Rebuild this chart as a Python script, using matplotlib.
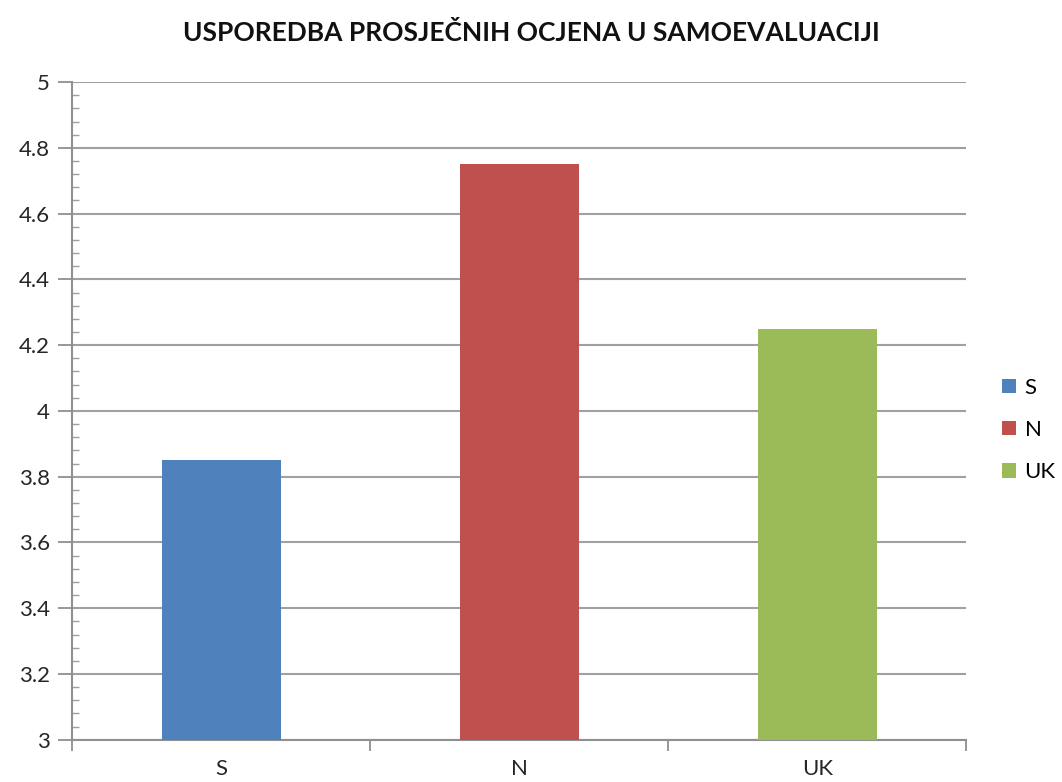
import matplotlib.pyplot as plt
from matplotlib.ticker import MultipleLocator
from matplotlib.patches import Patch

categories = ['S', 'N', 'UK']
values = [3.85, 4.75, 4.25]
colors = ['#4f81bd', '#c0504d', '#9bbb59']
yticks = [3, 3.2, 3.4, 3.6, 3.8, 4, 4.2, 4.4, 4.6, 4.8, 5]
ytick_labels = ['3', '3.2', '3.4', '3.6', '3.8', '4', '4.2', '4.4', '4.6', '4.8', '5']

plt.rcParams['font.family'] = ['Lato', 'DejaVu Sans']

fig = plt.figure(figsize=(10.62, 7.82), dpi=100)
ax = fig.add_axes([0.068, 0.054, 0.842, 0.841])

x = range(len(categories))
ax.bar(x, values, width=0.4, color=colors, bottom=0, zorder=3)

ax.set_ylim(3, 5)
ax.set_xlim(-0.5, len(categories) - 0.5)
ax.set_yticks(yticks)
ax.set_yticklabels(ytick_labels, fontsize=16, color='#262626')
ax.yaxis.set_minor_locator(MultipleLocator(0.04))
ax.tick_params(axis='y', which='major', direction='out', length=10, width=1.3, color='#909090', pad=6)
ax.tick_params(axis='y', which='minor', direction='in', length=5, width=1.0, color='#a0a0a0')
ax.grid(axis='y', color='#a0a0a0', linewidth=1.5, zorder=0)

# category ticks at the boundaries between groups
ax.set_xticks([i + 0.5 for i in range(-1, len(categories))], minor=False)
ax.set_xticklabels([])
ax.set_xticks(list(x), minor=True)
ax.set_xticklabels(categories, minor=True, fontsize=16, color='#262626')
ax.tick_params(axis='x', which='major', direction='out', length=8, width=1.3, color='#909090')
ax.tick_params(axis='x', which='minor', length=0, pad=14)

for side in ['top', 'right']:
    ax.spines[side].set_visible(False)
for side in ['left', 'bottom']:
    ax.spines[side].set_color('#909090')
    ax.spines[side].set_linewidth(1.5)

handles = [Patch(facecolor=c, edgecolor='none') for c in colors]
fig.legend(handles, categories, loc='center left', bbox_to_anchor=(0.925, 0.45),
           frameon=False, fontsize=16, handlelength=0.6, handleheight=0.6,
           handletextpad=0.4, labelspacing=1.0)

fig.text(0.5, 0.958, 'USPOREDBA PROSJEČNIH OCJENA U SAMOEVALUACIJI',
         ha='center', va='center', fontsize=19, fontweight='bold', color='#111111')

fig.savefig('out.png', dpi=100, facecolor='white')
